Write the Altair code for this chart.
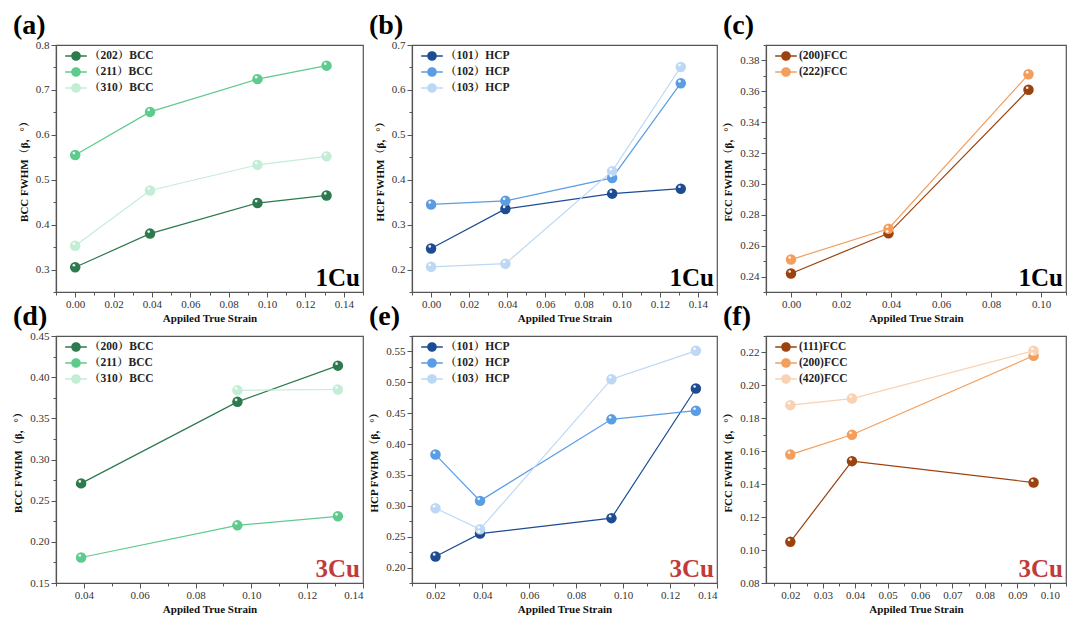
import altair as alt
import pandas as pd
import numpy as np

FONT = "Liberation Serif, Times New Roman, Noto Serif CJK SC, Noto Sans CJK SC, serif"

# ---------------- data ----------------
strain_1cu = [0.0, 0.039, 0.095, 0.131]
strain_1cu_fcc = [0.0, 0.039, 0.095]
strain_3cu_bcc = [0.039, 0.095, 0.131]
strain_3cu_hcp = [0.02, 0.039, 0.095, 0.131]
strain_3cu_fcc = [0.02, 0.039, 0.095]

a_series = ["（202）BCC", "（211）BCC", "（310）BCC"]
a_202 = [0.305, 0.380, 0.448, 0.465]
a_211 = [0.555, 0.651, 0.724, 0.754]
a_310 = [0.353, 0.476, 0.533, 0.552]

b_series = ["（101）HCP", "（102）HCP", "（103）HCP"]
b_101 = [0.247, 0.335, 0.369, 0.380]
b_102 = [0.345, 0.353, 0.404, 0.615]
b_103 = [0.206, 0.213, 0.419, 0.651]

c_series = ["(200)FCC", "(222)FCC"]
c_200 = [0.242, 0.268, 0.361]
c_222 = [0.251, 0.271, 0.371]

d_series = ["（200）BCC", "（211）BCC", "（310）BCC"]
d_200 = [0.271, 0.370, 0.414]
d_211 = [0.181, 0.220, 0.231]
d_310 = [None, 0.384, 0.385]

e_series = ["（101）HCP", "（102）HCP", "（103）HCP"]
e_101 = [0.218, 0.255, 0.280, 0.490]
e_102 = [0.383, 0.308, 0.440, 0.454]
e_103 = [0.296, 0.262, 0.505, 0.551]

f_series = ["(111)FCC", "(200)FCC", "(420)FCC"]
f_111 = [0.105, 0.154, 0.141]
f_200 = [0.158, 0.170, 0.218]
f_420 = [0.188, 0.192, 0.221]

GREENS = ["#2c7a4e", "#5ecb8d", "#c4edd5"]
BLUES = ["#1d4c93", "#5b9de3", "#bdd8f4"]
ORANGES = ["#9b420f", "#f39e5c", "#f8d2b4"]

X_TITLE = "Appiled True Strain"

LEG_PATH = "M-1.8,0L-0.7,0M0.7,0L1.8,0M-0.7,0A0.7,0.7,0,1,1,0.7,0A0.7,0.7,0,1,1,-0.7,0Z"


def frame(xs, series, ys):
    rows = []
    for s, vals in zip(series, ys):
        for x, v in zip(xs, vals):
            if v is not None:
                rows.append({"strain": x, "series": s, "fwhm": v})
    return pd.DataFrame(rows)


def tick_values(lo, hi, step):
    start = np.ceil(lo / step - 1e-6) * step
    return [float(round(v, 5)) for v in np.arange(start, hi + step * 1e-3, step)]


def make_axis(lo, hi, minor, major, fmt, title, is_x):
    test = f"abs(datum.value/{major} - round(datum.value/{major})) < 0.001"
    kw = dict(
        values=tick_values(lo, hi, minor),
        title=title,
        labelExpr=f"({test}) ? format(datum.value, '{fmt}') : ''",
        tickSize={"condition": {"test": test, "value": 5}, "value": 3},
        labelOverlap=False,
        grid=False,
        domainColor="#555",
        tickColor="#555",
        domainWidth=1.2,
        tickWidth=1,
        labelColor="#333",
        labelFont=FONT,
        labelFontSize=11,
        titleFont=FONT,
        titleFontSize=11,
        titleFontWeight="bold",
        titleColor="#111",
    )
    if is_x:
        kw.update(labelPadding=1, titlePadding=3)
    else:
        kw.update(labelPadding=2, titlePadding=6)
    return alt.Axis(**kw)


def panel(letter, xs, series, ys, colors, xdom, xminor, xmajor, ydom, yminor, ymajor,
          yfmt, ytitle, tag, tagcolor, W, H):
    df = frame(xs, series, ys)
    xenc = alt.X("strain:Q", scale=alt.Scale(domain=xdom, nice=False, zero=False),
                 axis=make_axis(xdom[0], xdom[1], xminor, xmajor, ".2f", X_TITLE, True))
    yenc = alt.Y("fwhm:Q", scale=alt.Scale(domain=ydom, nice=False, zero=False),
                 axis=make_axis(ydom[0], ydom[1], yminor, ymajor, yfmt, ytitle, False))
    sc = alt.Scale(domain=series, range=colors)
    leg = alt.Legend(
        title=None, orient="none", legendX=11, legendY=2,
        symbolType=LEG_PATH, symbolSize=144, symbolStrokeWidth=1.3,
        labelFont=FONT, labelFontSize=11.5, labelFontWeight="bold", labelColor="#222",
        rowPadding=2, labelOffset=6, padding=2,
    )
    base = alt.Chart(df)
    lines = base.mark_line(
        strokeWidth=1.2,
        point=alt.OverlayMarkDef(filled=True, shape="circle", size=110, opacity=1, strokeWidth=0.6),
    ).encode(x=xenc, y=yenc, color=alt.Color("series:N", scale=sc, legend=leg))
    shine = base.mark_point(filled=True, shape="circle", size=7, color="white", opacity=0.9,
                            xOffset=-1.3, yOffset=-2).encode(x=xenc, y=yenc)
    tagdf = pd.DataFrame({"t": [tag]})
    txt = alt.Chart(tagdf).mark_text(
        align="right", baseline="alphabetic", font=FONT, fontSize=25, fontWeight="bold", color=tagcolor
    ).encode(x=alt.value(W - 3), y=alt.value(H - 6), text="t:N")
    return alt.layer(lines, shine, txt).properties(
        width=W, height=H,
        title=alt.TitleParams(text=letter, anchor="start", frame="group", fontSize=28, font=FONT,
                              fontWeight="bold", color="black", dx=-43, offset=-1),
    )


H = 247
RED = "#c23b3b"

pa = panel("(a)", strain_1cu, a_series, [a_202, a_211, a_310], GREENS,
           [-0.01, 0.15], 0.01, 0.02, [0.25, 0.8], 0.05, 0.1, ".1f",
           "BCC FWHM（β，°）", "1Cu", "black", 307, H)
pb = panel("(b)", strain_1cu, b_series, [b_101, b_102, b_103], BLUES,
           [-0.01, 0.15], 0.01, 0.02, [0.15, 0.7], 0.05, 0.1, ".1f",
           "HCP FWHM（β，°）", "1Cu", "black", 305, H)
pc = panel("(c)", strain_1cu_fcc, c_series, [c_200, c_222], ORANGES[:2],
           [-0.01, 0.11], 0.01, 0.02, [0.23, 0.39], 0.01, 0.02, ".2f",
           "FCC FWHM（β，°）", "1Cu", "black", 300, H)
pd_ = panel("(d)", strain_3cu_bcc, d_series, [d_200, d_211, d_310], GREENS,
            [0.03, 0.14], 0.01, 0.02, [0.15, 0.45], 0.025, 0.05, ".2f",
            "BCC FWHM（β，°）", "3Cu", RED, 307, H)
pe = panel("(e)", strain_3cu_hcp, e_series, [e_101, e_102, e_103], BLUES,
           [0.01, 0.14], 0.01, 0.02, [0.175, 0.575], 0.025, 0.05, ".2f",
           "HCP FWHM（β，°）", "3Cu", RED, 305, H)
pf = panel("(f)", strain_3cu_fcc, f_series, [f_111, f_200, f_420], ORANGES,
           [0.0125, 0.105], 0.005, 0.01, [0.08, 0.23], 0.01, 0.02, ".2f",
           "FCC FWHM（β，°）", "3Cu", RED, 300, H)

chart = alt.concat(pa, pb, pc, pd_, pe, pf, columns=3, spacing={"row": 44, "column": 49},
                   bounds="flush").resolve_scale(color="independent").properties(
    padding={"left": 4, "top": 3, "right": 0, "bottom": 0},
    background="white",
).configure_view(stroke="#555", strokeWidth=1.2)

chart.save("out.html", embed_options={"renderer": "svg", "actions": False})
